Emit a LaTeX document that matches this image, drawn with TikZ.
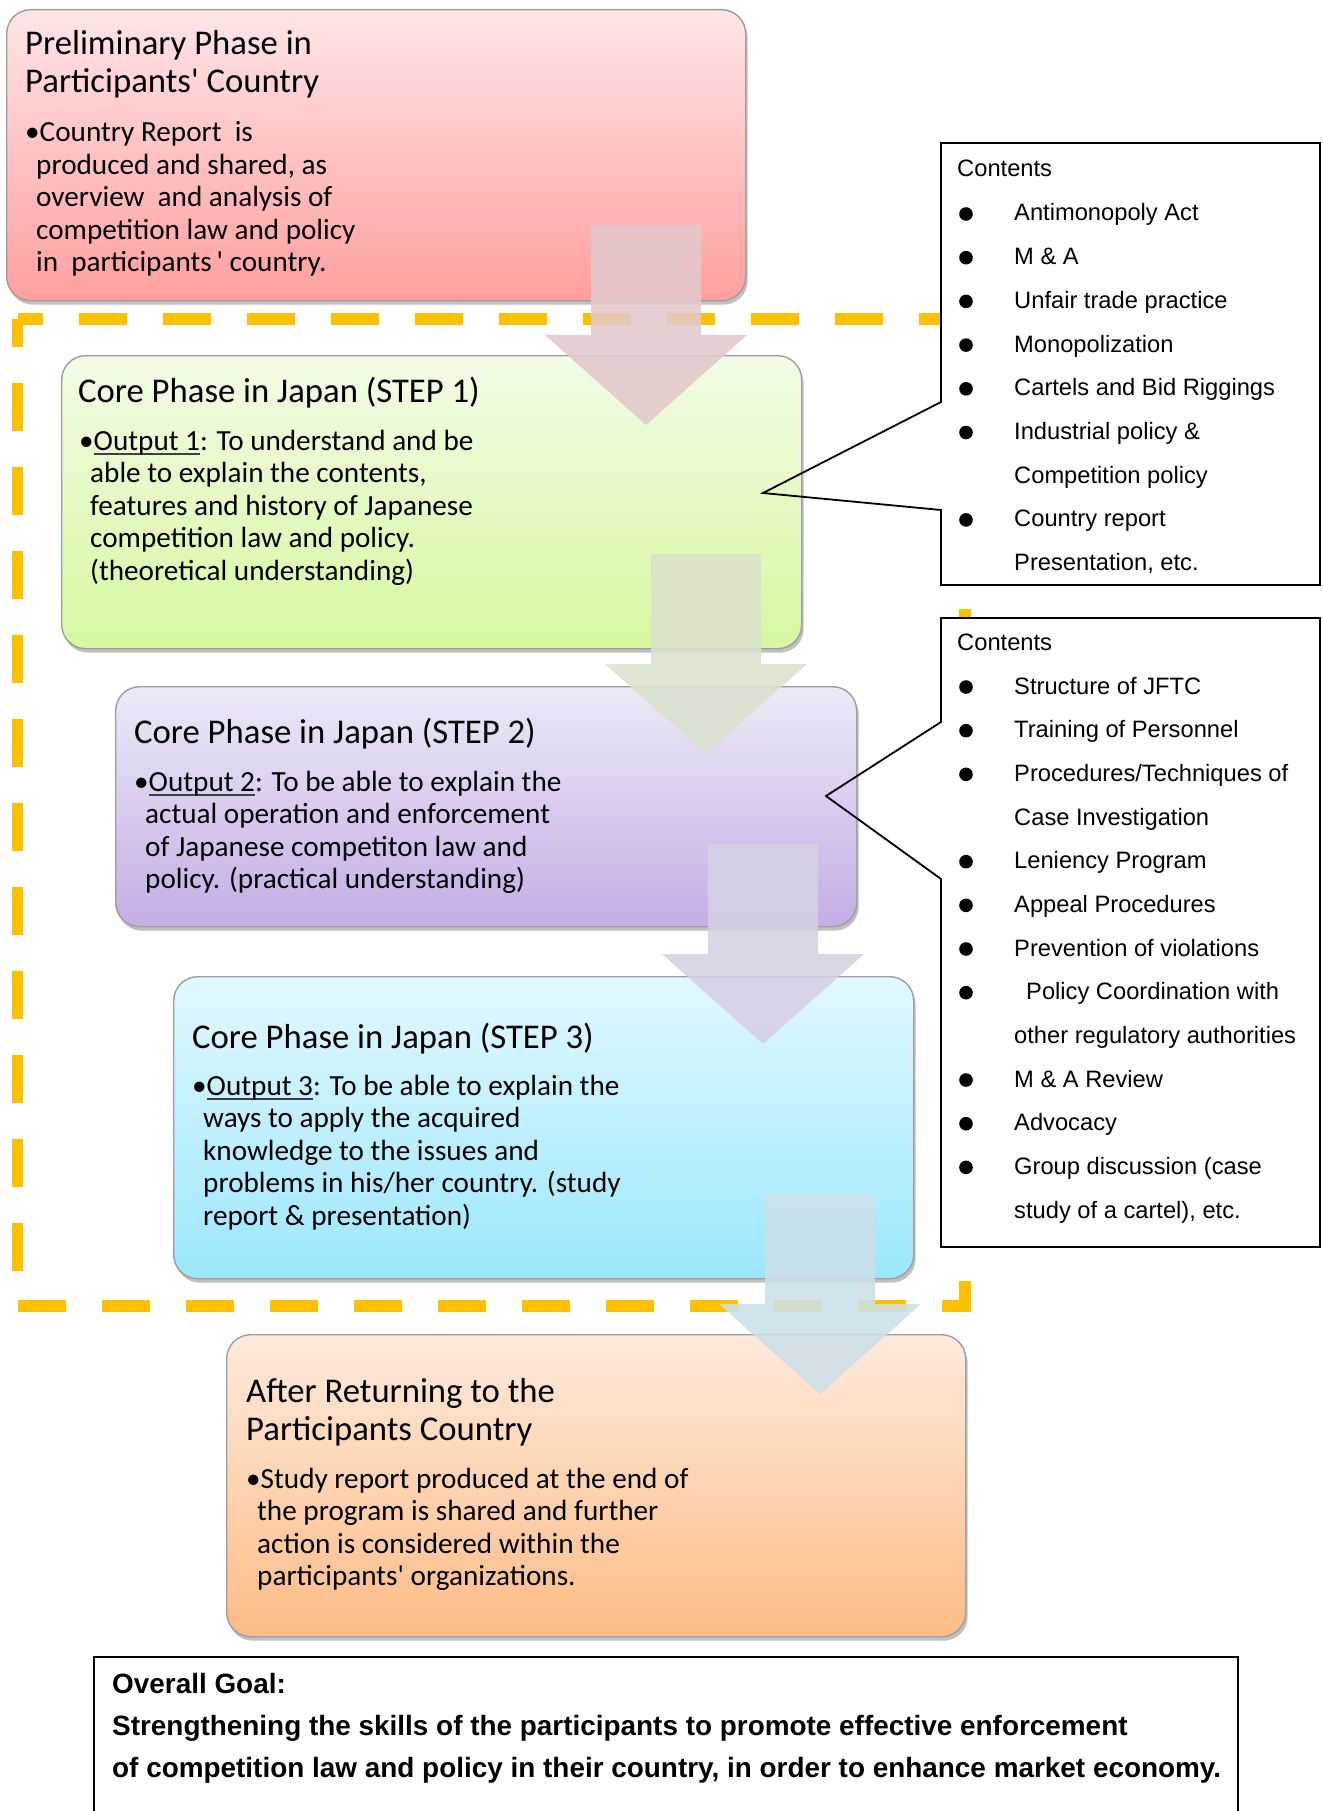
\documentclass[tikz,border=0pt]{standalone}
\usepackage{fontspec}
\setmainfont{Carlito}
\newfontfamily\arialf{Liberation Sans}
\usetikzlibrary{shadows}
\definecolor{dashor}{HTML}{FFC000}
\definecolor{preT}{RGB}{255,229,230}\definecolor{preB}{RGB}{255,159,159}
\definecolor{sATop}{RGB}{241,252,231}\definecolor{sABot}{RGB}{214,248,159}
\definecolor{sBTop}{RGB}{238,233,247}\definecolor{sBBot}{RGB}{196,173,229}
\definecolor{sCTop}{RGB}{226,248,254}\definecolor{sCBot}{RGB}{155,231,252}
\definecolor{aftTop}{RGB}{254,234,220}\definecolor{aftBot}{RGB}{252,188,134}
\definecolor{arA}{RGB}{226,200,203}\definecolor{arB}{RGB}{218,226,205}
\definecolor{arC}{RGB}{214,208,226}\definecolor{arD}{RGB}{204,224,232}
\newcommand\aq{\textquotesingle}
\newcommand\myul[1]{\setbox0\hbox{#1}\rlap{\color{black!75}\rule[-4.5pt]{\wd0}{1.3pt}}\box0}
\tikzset{
  phasebox/.style={draw=black!38, line width=1.4pt, rounded corners=24pt, anchor=north west,
    inner sep=0pt, drop shadow={shadow xshift=2pt, shadow yshift=-4pt, opacity=0.35, fill=black!70}},
  titletext/.style={anchor=base west, inner sep=0pt, align=left, font=\fontsize{34.7}{38}\selectfont},
  bodytext/.style={anchor=base west, inner sep=0pt, align=left, font=\fontsize{29.2}{32.5}\selectfont},
  callout/.style={line width=1.8pt, line join=miter},
  contitem/.style={anchor=base west, inner sep=0pt, font=\arialf\fontsize{23.7}{28}\selectfont},
  goaltext/.style={anchor=base west, inner sep=0pt, font=\arialf\bfseries\fontsize{27.9}{32}\selectfont},
  blockarrow/.pic={\fill[pic actions] (-55,0) -- (55,0) -- (55,110) -- (101,110) -- (0,200) -- (-101,110) -- (-55,110) -- cycle;}
}
\begin{document}
\begin{tikzpicture}[x=1pt,y=-1pt]
\useasboundingbox (0,0) rectangle (1322,1811);

% dashed frame
\draw[dashor, line width=11.5pt, dash pattern=on 48pt off 36pt, dash phase=22.5pt]
  (17.5,319) -- (965,319) -- (965,1306) -- (17.5,1306) -- cycle;

% callout fills
\coordinate (k1tip) at (763,493);
\coordinate (k2tip) at (826,796);
\fill[white] (941,143) -- (1320,143) -- (1320,585) -- (941,585) -- (941,510) -- (k1tip) -- (941,402) -- cycle;
\fill[white] (941,618) -- (1320,618) -- (1320,1247) -- (941,1247) -- (941,879) -- (k2tip) -- (941,722) -- cycle;

% phase boxes
\node[phasebox, minimum width=739pt, minimum height=291pt, top color=preT, bottom color=preB] (pre) at (6,9) {};
\node[phasebox, minimum width=740pt, minimum height=293pt, top color=sATop, bottom color=sABot] (s1) at (61,355) {};
\node[phasebox, minimum width=741pt, minimum height=240pt, top color=sBTop, bottom color=sBBot] (s2) at (115,686) {};
\node[phasebox, minimum width=740pt, minimum height=302pt, top color=sCTop, bottom color=sCBot] (s3) at (173,976) {};
\node[phasebox, minimum width=739pt, minimum height=302pt, top color=aftTop, bottom color=aftBot] (aft) at (226,1334) {};

% texts in phase boxes (anchor = baseline of the last line)
\node[titletext] (preTx) at (25,93) {Preliminary Phase in\\Participants\aq{} Country};
\node[bodytext] (preBx) at (25,272) {\textbullet Country Report\ \ is\\
  \hspace*{11pt}produced and shared, as\\
  \hspace*{11pt}overview\ \ and analysis of\\
  \hspace*{11pt}competition law and policy\\
  \hspace*{11pt}in\ \ participants\,\aq\ country.};

\node[titletext] (s1T) at (78,402) {Core Phase in Japan (STEP 1)};
\node[bodytext] (s1B) at (79,580) {\textbullet\myul{Output 1}: To understand and be\\
  \hspace*{11pt}able to explain the contents,\\
  \hspace*{11pt}features and history of Japanese\\
  \hspace*{11pt}competition law and policy.\\
  \hspace*{11pt}(theoretical understanding)};

\node[titletext] (s2T) at (134,743) {Core Phase in Japan (STEP 2)};
\node[bodytext] (s2B) at (134,888.5) {\textbullet\myul{Output 2}: To be able to explain the\\
  \hspace*{11pt}actual operation and enforcement\\
  \hspace*{11pt}of Japanese competiton law and\\
  \hspace*{11pt}policy. (practical understanding)};

\node[titletext] (s3T) at (192,1048) {Core Phase in Japan (STEP 3)};
\node[bodytext] (s3B) at (192,1225) {\textbullet\myul{Output 3}: To be able to explain the\\
  \hspace*{11pt}ways to apply the acquired\\
  \hspace*{11pt}knowledge to the issues and\\
  \hspace*{11pt}problems in his/her country. (study\\
  \hspace*{11pt}report \& presentation)};

\node[titletext] (aftT) at (246,1440) {After Returning to the\\Participants Country};
\node[bodytext] (aftB) at (246,1585.5) {\textbullet Study report produced at the end of\\
  \hspace*{11pt}the program is shared and further\\
  \hspace*{11pt}action is considered within the\\
  \hspace*{11pt}participants\aq{} organizations.};

% callout outlines
\draw[callout] (941,143) -- (1320,143) -- (1320,585) -- (941,585) -- (941,510) -- (k1tip) -- (941,402) -- cycle;
\draw[callout] (941,618) -- (1320,618) -- (1320,1247) -- (941,1247) -- (941,879) -- (k2tip) -- (941,722) -- cycle;

% contents 1
\node[contitem] (c1h) at (957,177) {Contents};
\foreach \t/\b [count=\i from 0] in {Antimonopoly Act/1, M \& A/1, Unfair trade practice/1, Monopolization/1,
  Cartels and Bid Riggings/1, Industrial policy \&/1, Competition policy/0, Country report/1, {Presentation, etc.}/0}{
  \node[contitem] (c1i\i) at (1014,{221+43.7*\i}) {\t};
  \ifnum\b=1 \fill (966,{214+43.7*\i}) circle (6.8pt); \fi
}
% contents 2
\node[contitem] (c2h) at (957,650) {Contents};
\foreach \t/\b [count=\i from 0] in {Structure of JFTC/1, Training of Personnel/1, {Procedures/Techniques of}/1,
  Case Investigation/0, Leniency Program/1, Appeal Procedures/1, Prevention of violations/1,
  {\hspace*{12pt}Policy Coordination with}/1, other regulatory authorities/0, M \& A Review/1, Advocacy/1,
  {Group discussion (case}/1, {study of a cartel), etc.}/0}{
  \node[contitem] (c2i\i) at (1014,{694+43.67*\i}) {\t};
  \ifnum\b=1 \fill (966,{687+43.67*\i}) circle (6.8pt); \fi
}

% block arrows
\pic[fill=arA, fill opacity=0.88] (a1) at (646,225) {blockarrow};
\pic[fill=arB, fill opacity=0.88] (a2) at (706,554) {blockarrow};
\pic[fill=arC, fill opacity=0.88] (a3) at (763,844) {blockarrow};
\pic[fill=arD, fill opacity=0.88] (a4) at (820,1194) {blockarrow};

% goal box
\draw[line width=2pt] (94,1830) -- (94,1657) -- (1238,1657) -- (1238,1830);
\node[goaltext] (g1) at (112,1693) {Overall Goal:};
\node[goaltext] (g2) at (112,1735) {Strengthening the skills of the participants to promote effective enforcement};
\node[goaltext] (g3) at (112,1777) {of competition law and policy in their country, in order to enhance market economy.};
\end{tikzpicture}
\end{document}
